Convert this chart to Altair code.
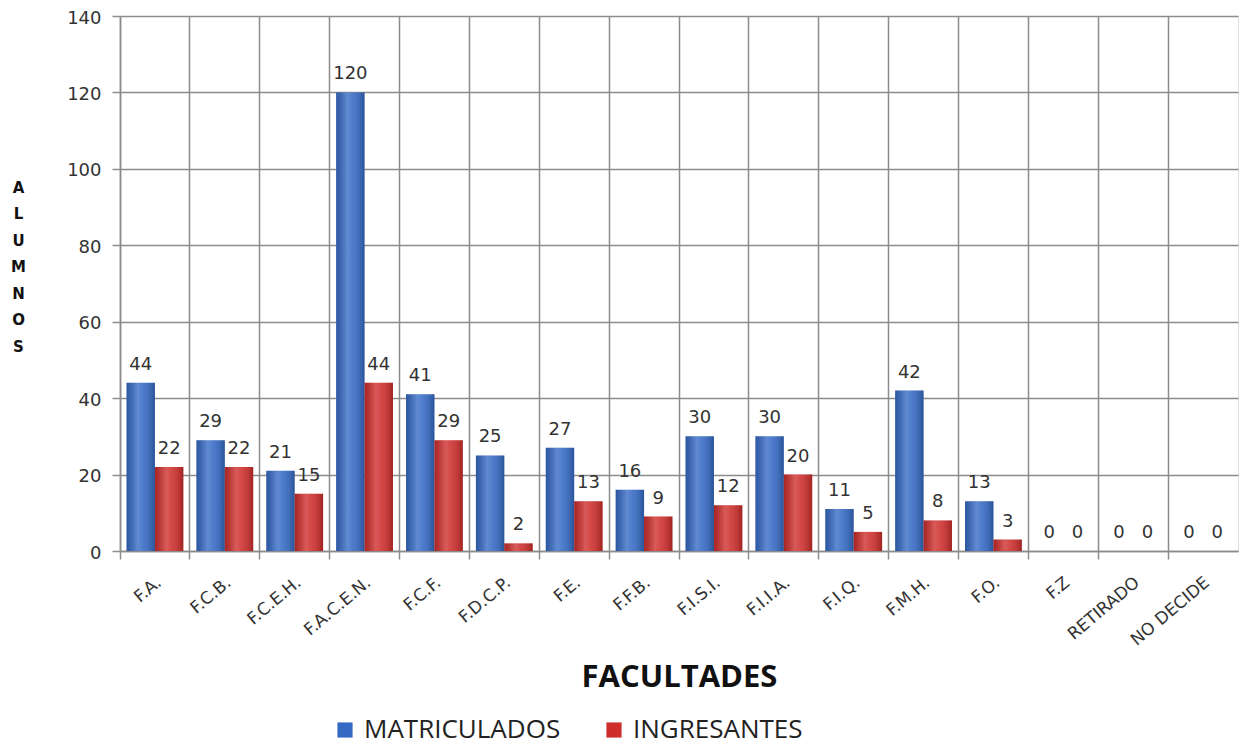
import altair as alt
import pandas as pd

facultades = ["F.A.", "F.C.B.", "F.C.E.H.", "F.A.C.E.N.", "F.C.F.", "F.D.C.P.", "F.E.",
              "F.F.B.", "F.I.S.I.", "F.I.I.A.", "F.I.Q.", "F.M.H.", "F.O.", "F.Z",
              "RETIRADO", "NO DECIDE"]
matriculados = [44, 29, 21, 120, 41, 25, 27, 16, 30, 30, 11, 42, 13, 0, 0, 0]
ingresantes = [22, 22, 15, 44, 29, 2, 13, 9, 12, 20, 5, 8, 3, 0, 0, 0]
series = ["MATRICULADOS", "INGRESANTES"]
colors = ["#3469c4", "#cd2d2b"]
y_ticks = [0, 20, 40, 60, 80, 100, 120, 140]

rows = []
for f, m, i in zip(facultades, matriculados, ingresantes):
    rows.append({"fac": f, "serie": series[0], "val": m})
    rows.append({"fac": f, "serie": series[1], "val": i})
df = pd.DataFrame(rows)

grid_col = "#8c8c8c"

x_enc = alt.X(
    "fac:N", sort=facultades,
    scale=alt.Scale(paddingInner=0, paddingOuter=0),
    axis=alt.Axis(
        bandPosition=0, grid=True, gridColor=grid_col, gridWidth=1.5,
        domainColor=grid_col, domainWidth=1.5, tickColor=grid_col, tickWidth=1.5, tickSize=8,
        labelAngle=-40, labelOffset=-1, labelPadding=15, labelFont="DejaVu Sans",
        labelFontSize=17, labelColor="#333333", labelLimit=300,
        title="FACULTADES", titleFont="Open Sans", titleFontSize=31, titleFontWeight="bold",
        titleColor="#111111", titleY=126, titleBaseline="middle",
    ),
)
xoff_enc = alt.XOffset("serie:N", sort=series, scale=alt.Scale(paddingOuter=0.23, paddingInner=0))
y_enc = alt.Y(
    "val:Q",
    scale=alt.Scale(domain=[0, 140], nice=False),
    axis=alt.Axis(
        values=y_ticks, grid=True, gridColor=grid_col, gridWidth=1.5,
        domainColor=grid_col, domainWidth=1.5, tickColor=grid_col, tickWidth=1.5, tickSize=8,
        labelFont="DejaVu Sans", labelFontSize=18, labelColor="#333333", labelPadding=11,
        labelOffset=2,
        title=["A", "L", "U", "M", "N", "O", "S"], titleAngle=0, titleX=-102, titleY=164,
        titleAlign="center", titleBaseline="top", titleFont="DejaVu Sans", titleFontSize=15,
        titleFontWeight="bold", titleLineHeight=26.5, titleColor="#111111",
    ),
)
color_enc = alt.Color(
    "serie:N", sort=series,
    scale=alt.Scale(domain=series, range=colors),
    legend=alt.Legend(
        orient="none", legendX=212, legendY=701, direction="horizontal", title=None,
        labelFont="Open Sans", labelFontSize=26, labelColor="#222222", labelLimit=400,
        symbolType="square", symbolSize=230, symbolStrokeWidth=0, columnPadding=40,
        labelOffset=6,
    ),
)

shade = alt.Gradient(
    gradient="linear", x1=0, x2=1, y1=0, y2=0,
    stops=[
        alt.GradientStop(offset=0, color="rgba(0,0,0,0.18)"),
        alt.GradientStop(offset=0.4, color="rgba(255,255,255,0.22)"),
        alt.GradientStop(offset=0.6, color="rgba(255,255,255,0.12)"),
        alt.GradientStop(offset=1, color="rgba(0,0,0,0.22)"),
    ],
)

base = alt.Chart(df).encode(x=x_enc, xOffset=xoff_enc, y=y_enc)
bars = base.mark_bar().encode(color=color_enc)
gloss = base.mark_bar(color=shade)
labels = base.mark_text(baseline="bottom", dy=-9, font="DejaVu Sans", fontSize=18,
                        color="#333333").encode(text="val:Q")

chart = (bars + gloss + labels).properties(
    width=1118, height=535,
    autosize=alt.AutoSizeParams(type="none"),
    padding={"left": 112, "top": 8, "right": 4, "bottom": 195},
).configure_view(stroke=grid_col, strokeWidth=1.5).configure(background="white")

chart.save("out.html", embed_options={"renderer": "svg", "actions": False})
